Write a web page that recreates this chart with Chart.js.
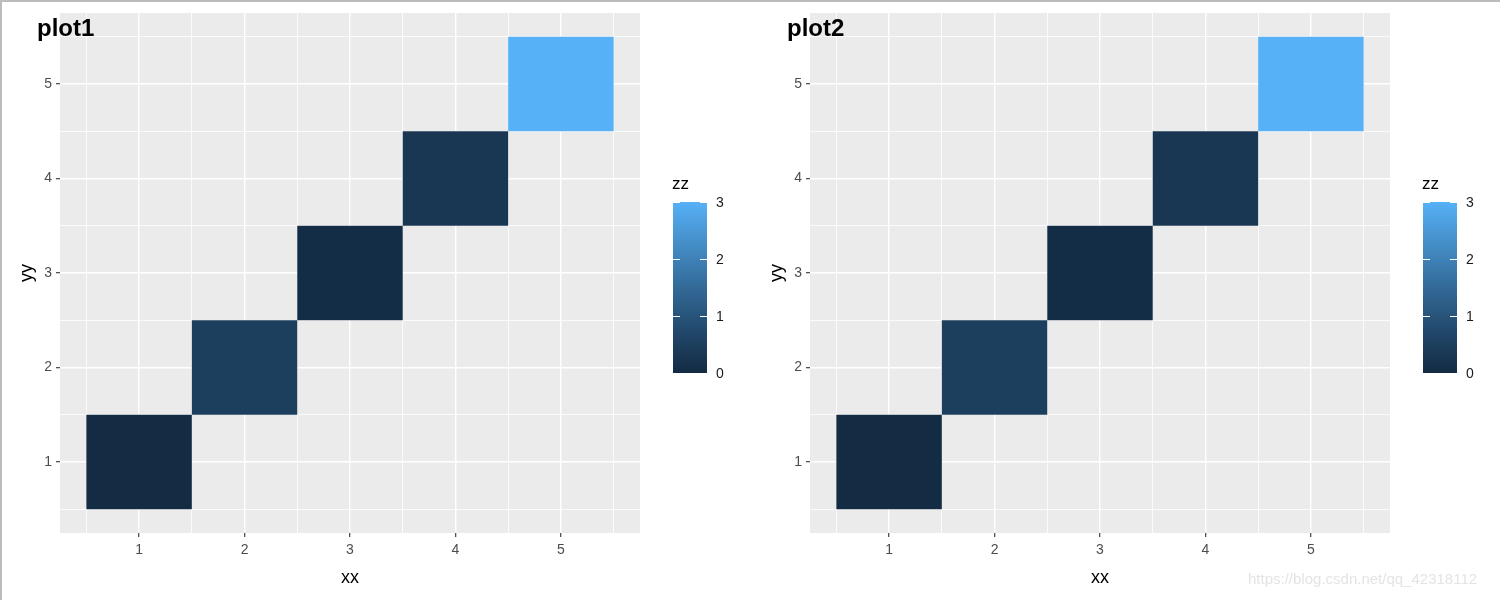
<!DOCTYPE html>
<html lang="en">
<head>
<meta charset="utf-8" />
<title>plot1 / plot2</title>
<style>
  html, body { margin: 0; padding: 0; background: #fff; }
  .wrap { position: relative; width: 1500px; height: 600px; overflow: hidden; }
  .wrap canvas { position: absolute; top: 0; }
  .frame { position: absolute; left: 0; top: 0; width: 1500px; height: 600px; box-sizing: border-box;
           border-top: 2px solid #bcbcbc; border-left: 2px solid #bcbcbc; pointer-events: none; }
  .mark { position: absolute; left: 1248px; top: 570px; font: 15px "Liberation Sans", Arial, sans-serif; color: #e4e4e4; }
</style>
</head>
<body>
<div class="wrap">
  <canvas id="plot1" width="750" height="600" style="left:0"></canvas>
  <canvas id="plot2" width="750" height="600" style="left:750px"></canvas>
  <div class="mark">https://blog.csdn.net/qq_42318112</div>
  <div class="frame"></div>
</div>
<script src="https://cdn.jsdelivr.net/npm/chart.js@4.4.1/dist/chart.umd.min.js"></script>
<script>
    const xx = [1, 2, 3, 4, 5];
    const yy = [1, 2, 3, 4, 5];
    const zz = [0, 0.5, 0.05, 0.3, 3];
    const breaks = [1, 2, 3, 4, 5];
    const minorBreaks = [0.5, 1.5, 2.5, 3.5, 4.5, 5.5];
    const zzBreaks = [0, 1, 2, 3];
    const plotLabels = ['plot1', 'plot2'];

    const family = '"Liberation Sans", Arial, sans-serif';
    Chart.defaults.font.family = family;

    // ggplot default continuous fill: #132B43 -> #56B1F7, interpolated in Lab
    function hexToLab(hex) {
        const c = [1, 3, 5].map(i => parseInt(hex.slice(i, i + 2), 16) / 255)
            .map(v => v <= 0.04045 ? v / 12.92 : Math.pow((v + 0.055) / 1.055, 2.4));
        const x = (0.4124 * c[0] + 0.3576 * c[1] + 0.1805 * c[2]) / 0.95047;
        const y = 0.2126 * c[0] + 0.7152 * c[1] + 0.0722 * c[2];
        const z = (0.0193 * c[0] + 0.1192 * c[1] + 0.9505 * c[2]) / 1.08883;
        const f = t => t > 0.008856 ? Math.cbrt(t) : 7.787 * t + 16 / 116;
        return [116 * f(y) - 16, 500 * (f(x) - f(y)), 200 * (f(y) - f(z))];
    }

    function labToRgb(L, a, b) {
        const fy = (L + 16) / 116, fx = fy + a / 500, fz = fy - b / 200;
        const inv = t => t * t * t > 0.008856 ? t * t * t : (t - 16 / 116) / 7.787;
        const x = inv(fx) * 0.95047, y = inv(fy), z = inv(fz) * 1.08883;
        const r = 3.2406 * x - 1.5372 * y - 0.4986 * z;
        const g = -0.9689 * x + 1.8758 * y + 0.0415 * z;
        const bl = 0.0557 * x - 0.2040 * y + 1.0570 * z;
        const gam = v => {
            v = v <= 0.0031308 ? 12.92 * v : 1.055 * Math.pow(v, 1 / 2.4) - 0.055;
            return Math.round(Math.min(1, Math.max(0, v)) * 255);
        };
        return `rgb(${gam(r)},${gam(g)},${gam(bl)})`;
    }

    const labLow = hexToLab('#132B43');
    const labHigh = hexToLab('#56B1F7');
    const zMin = Math.min(...zz);
    const zMax = Math.max(...zz);

    function fillFor(v) {
        const t = (v - zMin) / (zMax - zMin);
        return labToRgb(...labLow.map((l, i) => l + (labHigh[i] - l) * t));
    }

    const isMajor = c => c.tick && breaks.includes(c.tick.value);

    const panelBg = {
        id: 'panelBg',
        beforeDraw(chart) {
            const { ctx, chartArea: a } = chart;
            ctx.save();
            ctx.fillStyle = '#EBEBEB';
            ctx.fillRect(a.left, a.top, a.width, a.height);
            ctx.restore();
        }
    };

    // plot tag + colour bar legend
    const extras = {
        id: 'extras',
        afterDraw(chart, args, opts) {
            const { ctx, chartArea: a } = chart;
            ctx.save();
            ctx.font = 'bold 24px ' + family;
            ctx.fillStyle = '#000';
            ctx.textBaseline = 'alphabetic';
            ctx.fillText(opts.label, 37, 36);

            const bx = a.right + 33, bw = 34, top = 202, bottom = 373;
            const yOf = v => bottom - (v - zMin) / (zMax - zMin) * (bottom - top);
            const grad = ctx.createLinearGradient(0, bottom, 0, top);
            for (let i = 0; i <= 20; i++) {
                grad.addColorStop(i / 20, fillFor(zMin + (zMax - zMin) * i / 20));
            }
            ctx.fillStyle = grad;
            ctx.fillRect(bx, top, bw, bottom - top);

            ctx.strokeStyle = '#FFFFFF';
            ctx.lineWidth = 1;
            zzBreaks.forEach(v => {
                const y = Math.round(yOf(v)) + 0.5;
                ctx.beginPath();
                ctx.moveTo(bx, y); ctx.lineTo(bx + 7, y);
                ctx.moveTo(bx + bw - 7, y); ctx.lineTo(bx + bw, y);
                ctx.stroke();
            });

            ctx.fillStyle = '#1A1A1A';
            ctx.font = '14px ' + family;
            ctx.textBaseline = 'middle';
            zzBreaks.forEach(v => ctx.fillText(String(v), bx + bw + 9, yOf(v) + 1));

            ctx.fillStyle = '#000';
            ctx.font = '17px ' + family;
            ctx.fillText('zz', bx - 1, 184);
            ctx.restore();
        }
    };

    function axis(dir) {
        return {
            type: 'linear',
            min: 0.25,
            max: 5.75,
            offset: false,
            beginAtZero: false,
            afterBuildTicks: s => {
                s.ticks = minorBreaks.concat(breaks).sort((p, q) => p - q).map(v => ({ value: v }));
            },
            afterFit: s => {
                if (dir === 'x') s.height = 67; else s.width = 60;
            },
            grid: {
                offset: false,
                color: '#FFFFFF',
                lineWidth: c => isMajor(c) ? 1.4 : 0.8,
                drawTicks: true,
                tickLength: 4,
                tickWidth: 1.1,
                tickColor: c => isMajor(c) ? '#333333' : 'rgba(0,0,0,0)'
            },
            border: { display: false },
            ticks: {
                callback: v => breaks.includes(v) ? String(v) : '',
                color: '#4D4D4D',
                font: { size: 14 },
                padding: dir === 'x' ? 5 : 4,
                autoSkip: false,
                maxRotation: 0
            },
            title: {
                display: true,
                text: dir === 'x' ? 'xx' : 'yy',
                color: '#000',
                font: { size: 18 },
                padding: dir === 'x' ? { top: 0, bottom: 11 } : { top: 16, bottom: 0 }
            }
        };
    }

    function makeChart(id, label) {
        return new Chart(document.getElementById(id), {
            type: 'bar',
            data: {
                datasets: [{
                    data: xx.map((x, i) => ({ x: x, y: [yy[i] - 0.5, yy[i] + 0.5] })),
                    backgroundColor: zz.map(fillFor),
                    borderWidth: 0,
                    barPercentage: 1,
                    // the bar ruler also counts the half-step grid ticks, so one tile spans two of them
                    categoryPercentage: 2
                }]
            },
            options: {
                responsive: false,
                animation: false,
                layout: { padding: { top: 13, right: 110, left: 0, bottom: 0 } },
                plugins: {
                    legend: { display: false },
                    tooltip: { enabled: false },
                    extras: { label: label }
                },
                scales: { x: axis('x'), y: axis('y') }
            },
            plugins: [panelBg, extras]
        });
    }

    makeChart('plot1', plotLabels[0]);
    makeChart('plot2', plotLabels[1]);
</script>
</body>
</html>
